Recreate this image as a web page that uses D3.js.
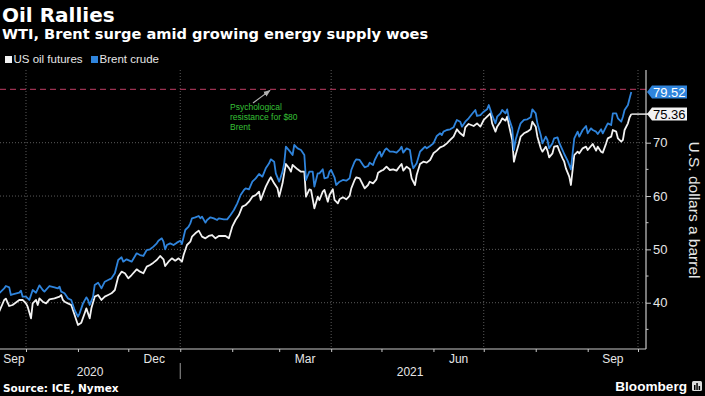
<!DOCTYPE html>
<html><head><meta charset="utf-8">
<script src="https://cdn.jsdelivr.net/npm/d3@7"></script>
<style>html,body{margin:0;padding:0;background:#000;}svg{display:block;}</style>
</head><body>
<svg id="c" width="705" height="396"></svg>
<script>
const title = "Oil Rallies";
const subtitle = "WTI, Brent surge amid growing energy supply woes";
const seriesNames = ["US oil futures", "Brent crude"];
const yTicksMajor = [40, 50, 60, 70];
const yTicksMinor = [35, 45, 55, 65];
const monthLabels = [["2020-09","Sep"],["2020-12","Dec"],["2021-03","Mar"],["2021-06","Jun"],["2021-09","Sep"]];
const yearLabels = ["2020", "2021"];
const resistanceLevel = 80;
const annotation = ["Psychological", "resistance for $80", "Brent"];
const source = "Source: ICE, Nymex";
const yAxisTitle = "U.S. dollars a barrel";

const brent = [
["2020-09-15",41.76],["2020-09-18",42.69],["2020-09-19",43.13],["2020-09-21",42.88],["2020-09-22",41.44],["2020-09-23",41.57],["2020-09-27",41.88],["2020-09-28",42.26],["2020-09-29",41.13],
["2020-10-01",41.13],["2020-10-03",40.51],["2020-10-05",42.38],["2020-10-07",41.88],["2020-10-09",43.26],["2020-10-11",42.38],["2020-10-12",42.07],["2020-10-15",43.13],["2020-10-18",42.88],["2020-10-20",42.69],["2020-10-21",43.01],["2020-10-22",42.07],["2020-10-24",41.76],["2020-10-26",40.82],["2020-10-28",40.51],["2020-10-30",38.63],
["2020-11-01",37.38],["2020-11-02",38.01],["2020-11-04",39.88],["2020-11-06",41.01],["2020-11-07",40.51],["2020-11-08",39.57],["2020-11-10",41.13],["2020-11-11",43.32],["2020-11-13",43.76],["2020-11-15",42.69],["2020-11-17",43.94],["2020-11-19",44.26],["2020-11-21",44.57],["2020-11-23",45.51],["2020-11-25",48.01],["2020-11-27",48.51],["2020-11-28",47.69],["2020-11-30",48.13],
["2020-12-03",47.69],["2020-12-06",49.26],["2020-12-08",48.94],["2020-12-10",48.76],["2020-12-12",49.88],["2020-12-14",50.01],["2020-12-16",50.51],["2020-12-18",51.13],["2020-12-19",51.63],["2020-12-21",52.07],["2020-12-22",51.44],["2020-12-23",50.01],["2020-12-24",50.82],["2020-12-26",51.13],["2020-12-28",50.82],["2020-12-30",51.26],
["2021-01-01",51.63],["2021-01-02",51.01],["2021-01-04",53.63],["2021-01-06",54.26],["2021-01-07",54.88],["2021-01-08",55.82],["2021-01-10",56.01],["2021-01-12",56.26],["2021-01-13",55.82],["2021-01-14",56.13],["2021-01-16",55.01],["2021-01-17",55.51],["2021-01-19",56.01],["2021-01-21",55.82],["2021-01-23",55.51],["2021-01-24",55.82],["2021-01-27",55.63],["2021-01-29",55.63],["2021-01-31",56.44],
["2021-02-02",57.38],["2021-02-04",58.63],["2021-02-06",60.19],["2021-02-08",61.13],["2021-02-09",61.44],["2021-02-11",61.26],["2021-02-13",62.69],["2021-02-15",63.32],["2021-02-17",64.13],["2021-02-19",63.63],["2021-02-21",65.19],["2021-02-23",66.13],["2021-02-24",66.88],["2021-02-26",66.44],["2021-02-27",64.26],
["2021-03-01",62.69],["2021-03-03",64.57],["2021-03-04",66.13],["2021-03-05",69.26],["2021-03-07",68.51],["2021-03-09",67.69],["2021-03-10",69.57],["2021-03-12",68.94],["2021-03-14",68.63],["2021-03-16",67.69],["2021-03-17",63.01],["2021-03-19",64.57],["2021-03-21",64.57],["2021-03-22",61.76],["2021-03-24",64.26],["2021-03-25",64.26],["2021-03-27",65.01],["2021-03-28",63.32],["2021-03-30",63.51],["2021-03-31",64.57],
["2021-04-01",64.88],["2021-04-03",63.51],["2021-04-04",62.07],["2021-04-06",62.69],["2021-04-08",63.01],["2021-04-10",62.88],["2021-04-12",63.32],["2021-04-13",64.88],["2021-04-15",66.44],["2021-04-16",66.88],["2021-04-18",66.76],["2021-04-20",65.82],["2021-04-21",65.38],["2021-04-23",65.63],["2021-04-24",66.26],["2021-04-26",65.82],["2021-04-27",66.76],["2021-04-29",68.01],["2021-04-30",68.32],
["2021-05-01",67.38],["2021-05-03",68.63],["2021-05-04",68.94],["2021-05-06",68.32],["2021-05-08",68.32],["2021-05-10",68.13],["2021-05-12",68.76],["2021-05-13",69.26],["2021-05-14",68.13],["2021-05-16",68.94],["2021-05-18",68.63],["2021-05-19",66.44],["2021-05-20",65.19],["2021-05-22",66.13],["2021-05-24",68.32],["2021-05-25",68.63],["2021-05-27",69.26],["2021-05-28",68.94],["2021-05-30",69.38],
["2021-06-01",69.88],["2021-06-03",71.26],["2021-06-05",71.76],["2021-06-06",71.44],["2021-06-07",72.07],["2021-06-09",72.38],["2021-06-11",72.51],["2021-06-13",72.88],["2021-06-14",73.63],["2021-06-15",74.26],["2021-06-17",73.94],["2021-06-18",73.01],["2021-06-20",73.94],["2021-06-22",74.57],["2021-06-24",75.38],["2021-06-26",76.13],["2021-06-27",75.01],["2021-06-29",75.19],
["2021-07-01",75.82],["2021-07-03",76.26],["2021-07-04",77.07],["2021-07-06",75.19],["2021-07-08",73.63],["2021-07-09",74.88],["2021-07-11",75.51],["2021-07-12",76.13],["2021-07-14",75.51],["2021-07-15",76.26],["2021-07-16",74.57],["2021-07-18",72.69],["2021-07-19",68.63],["2021-07-20",70.51],["2021-07-22",72.69],["2021-07-23",73.63],["2021-07-25",74.26],["2021-07-27",74.38],["2021-07-29",74.76],["2021-07-30",76.26],
["2021-08-01",75.51],["2021-08-02",73.63],["2021-08-04",71.44],["2021-08-05",69.88],["2021-08-07",71.13],["2021-08-08",70.51],["2021-08-09",68.94],["2021-08-11",69.88],["2021-08-12",70.82],["2021-08-14",71.01],["2021-08-15",70.01],["2021-08-17",68.63],["2021-08-18",67.88],["2021-08-20",66.63],["2021-08-21",65.82],["2021-08-22",65.01],["2021-08-23",68.01],["2021-08-24",70.82],["2021-08-26",72.07],["2021-08-27",71.13],["2021-08-29",72.38],["2021-08-31",73.13],
["2021-09-01",71.76],["2021-09-03",72.69],["2021-09-04",72.38],["2021-09-06",72.07],["2021-09-07",71.63],["2021-09-09",72.51],["2021-09-10",71.76],["2021-09-12",73.01],["2021-09-13",73.63],["2021-09-15",73.32],["2021-09-16",75.51],["2021-09-18",75.51],["2021-09-19",74.57],["2021-09-21",73.94],["2021-09-22",74.88],["2021-09-23",76.13],["2021-09-25",77.07],["2021-09-26",78.32],["2021-09-27",79.52]
];

const wti = [
["2020-09-15",38.32],["2020-09-18",40.51],["2020-09-19",40.76],["2020-09-21",39.38],["2020-09-23",39.57],["2020-09-27",40.51],["2020-09-29",40.51],
["2020-10-01",39.88],["2020-10-02",39.26],["2020-10-04",37.07],["2020-10-05",39.88],["2020-10-07",40.51],["2020-10-08",39.57],["2020-10-09",40.82],["2020-10-11",40.19],["2020-10-13",39.88],["2020-10-15",40.63],["2020-10-18",40.82],["2020-10-21",41.13],["2020-10-22",41.44],["2020-10-23",40.51],["2020-10-24",40.19],["2020-10-26",39.88],["2020-10-28",39.57],["2020-10-30",37.69],
["2020-11-01",35.82],["2020-11-03",36.26],["2020-11-05",38.01],["2020-11-06",38.94],["2020-11-08",37.07],["2020-11-09",38.94],["2020-11-11",41.13],["2020-11-13",41.44],["2020-11-15",40.51],["2020-11-17",41.13],["2020-11-19",41.44],["2020-11-21",41.76],["2020-11-23",42.38],["2020-11-25",44.88],["2020-11-27",45.82],["2020-11-29",45.51],
["2020-12-01",44.57],["2020-12-03",45.19],["2020-12-06",46.26],["2020-12-08",45.82],["2020-12-10",45.51],["2020-12-12",46.76],["2020-12-14",47.07],["2020-12-16",47.51],["2020-12-18",48.01],["2020-12-20",48.76],["2020-12-22",48.13],["2020-12-23",46.88],["2020-12-25",47.69],["2020-12-27",48.32],["2020-12-29",47.88],["2020-12-31",48.32],
["2021-01-02",47.69],["2021-01-03",48.94],["2021-01-05",50.82],["2021-01-07",51.44],["2021-01-08",52.38],["2021-01-10",53.01],["2021-01-12",53.51],["2021-01-14",52.38],["2021-01-16",52.07],["2021-01-18",52.51],["2021-01-20",52.69],["2021-01-22",52.07],["2021-01-24",52.51],["2021-01-26",52.51],["2021-01-28",52.51],["2021-01-30",52.07],
["2021-02-01",54.26],["2021-02-03",55.51],["2021-02-05",56.44],["2021-02-07",58.01],["2021-02-09",58.32],["2021-02-11",58.94],["2021-02-13",59.88],["2021-02-15",60.19],["2021-02-17",60.82],["2021-02-18",59.26],["2021-02-21",61.76],["2021-02-23",63.01],["2021-02-24",63.51],["2021-02-26",62.38],["2021-02-28",61.44],
["2021-03-01",59.88],["2021-03-03",62.38],["2021-03-04",64.26],["2021-03-05",66.01],["2021-03-07",65.19],["2021-03-08",64.57],["2021-03-09",65.82],["2021-03-12",65.01],["2021-03-14",64.57],["2021-03-16",64.57],["2021-03-17",59.88],["2021-03-19",61.26],["2021-03-20",61.13],["2021-03-22",57.69],["2021-03-24",59.88],["2021-03-25",59.26],["2021-03-27",60.82],["2021-03-28",61.13],["2021-03-30",58.94],["2021-03-31",60.19],
["2021-04-02",61.26],["2021-04-03",59.26],["2021-04-05",58.63],["2021-04-06",59.38],["2021-04-08",59.76],["2021-04-10",59.38],["2021-04-12",60.01],["2021-04-13",61.44],["2021-04-15",63.01],["2021-04-16",63.51],["2021-04-18",63.32],["2021-04-20",62.07],["2021-04-21",61.44],["2021-04-23",62.07],["2021-04-24",62.69],["2021-04-26",62.38],["2021-04-28",63.13],["2021-04-29",64.38],
["2021-05-01",64.76],["2021-05-02",64.88],["2021-05-04",65.51],["2021-05-06",64.88],["2021-05-08",65.01],["2021-05-10",64.76],["2021-05-12",65.63],["2021-05-13",66.01],["2021-05-14",64.76],["2021-05-16",65.51],["2021-05-18",65.01],["2021-05-19",63.32],["2021-05-21",62.07],["2021-05-22",63.94],["2021-05-24",66.01],["2021-05-26",66.44],["2021-05-28",66.26],["2021-05-30",66.76],
["2021-06-01",68.01],["2021-06-03",68.51],["2021-06-05",69.13],["2021-06-07",69.38],["2021-06-09",69.88],["2021-06-11",70.51],["2021-06-13",71.13],["2021-06-15",72.51],["2021-06-17",71.76],["2021-06-19",71.26],["2021-06-20",72.88],["2021-06-22",73.51],["2021-06-25",73.13],["2021-06-27",73.63],["2021-06-29",73.01],
["2021-07-01",74.26],["2021-07-03",74.88],["2021-07-05",75.51],["2021-07-06",73.63],["2021-07-08",72.07],["2021-07-09",73.01],["2021-07-11",73.94],["2021-07-12",74.57],["2021-07-14",74.13],["2021-07-15",74.88],["2021-07-16",73.32],["2021-07-18",70.51],["2021-07-19",66.44],["2021-07-20",67.69],["2021-07-22",69.88],["2021-07-23",71.13],["2021-07-25",71.76],["2021-07-27",72.07],["2021-07-29",72.51],["2021-07-30",73.94],
["2021-08-01",73.01],["2021-08-02",71.13],["2021-08-04",68.94],["2021-08-05",68.32],["2021-08-07",69.26],["2021-08-08",68.51],["2021-08-09",67.26],["2021-08-11",68.01],["2021-08-12",69.26],["2021-08-14",69.38],["2021-08-15",68.51],["2021-08-17",67.07],["2021-08-18",66.44],["2021-08-19",65.19],["2021-08-21",63.63],["2021-08-22",62.07],["2021-08-23",64.88],["2021-08-24",67.69],["2021-08-26",68.32],["2021-08-27",68.01],["2021-08-29",68.94],["2021-08-31",69.26],
["2021-09-01",68.63],["2021-09-03",69.38],["2021-09-04",69.76],["2021-09-06",68.51],["2021-09-07",69.26],["2021-09-09",68.32],["2021-09-10",68.13],["2021-09-12",69.88],["2021-09-13",70.82],["2021-09-15",71.13],["2021-09-16",72.38],["2021-09-18",72.07],["2021-09-19",70.82],["2021-09-21",70.19],["2021-09-22",70.51],["2021-09-23",72.38],["2021-09-25",73.63],["2021-09-26",74.76],["2021-09-27",75.36]
];

const parse = d3.timeParse("%Y-%m-%d");
const parseM = d3.timeParse("%Y-%m");
const wtiData = wti.map(d => ({date: parse(d[0]), value: d[1]}));
const brentData = brent.map(d => ({date: parse(d[0]), value: d[1]}));

const svg = d3.select("#c");
const plotLeft = 0, plotRight = 646, plotTop = 70, plotBottom = 349;
const x = d3.scaleTime()
  .domain([new Date(2020, 8, 15, 12), new Date(2021, 9, 5, 18, 30)])
  .range([plotLeft, plotRight]);
const y = d3.scaleLinear().domain([31.32, 83.63]).range([plotBottom, plotTop]);

const WHITE = "#f2f2f2", BLUE = "#2f84dc", AXIS = "#c8c8c8", GRID = "#5a5a5a";
const sansF = "'Liberation Sans', Arial, sans-serif";
const boldF = "'DejaVu Sans', sans-serif";

// title
svg.append("text").attr("x", 2).attr("y", 22).attr("fill", "#fff")
  .attr("font-family", boldF).attr("font-weight", "bold").attr("font-size", 20).text(title);
svg.append("text").attr("x", 2).attr("y", 39).attr("fill", "#fff")
  .attr("font-family", boldF).attr("font-weight", "bold").attr("font-size", 14.6).text(subtitle);

// legend
const legColors = [WHITE, BLUE];
const legX = [5, 91];
seriesNames.forEach((n, i) => {
  svg.append("rect").attr("x", legX[i]).attr("y", 56).attr("width", 7).attr("height", 7).attr("fill", legColors[i]);
  svg.append("text").attr("x", legX[i] + 8.5).attr("y", 63).attr("fill", "#e6e6e6")
    .attr("font-family", sansF).attr("font-size", 11.5).text(n);
});

// gridlines
const quarterStarts = d3.timeMonth.every(3).range(new Date(2020, 9, 1), new Date(2021, 9, 2));
svg.append("g").selectAll("line").data(quarterStarts).join("line")
  .attr("x1", d => x(d)).attr("x2", d => x(d)).attr("y1", plotTop).attr("y2", plotBottom)
  .attr("stroke", GRID).attr("stroke-width", 1).attr("stroke-dasharray", "1,2");
svg.append("g").selectAll("line").data(yTicksMajor).join("line")
  .attr("x1", plotLeft).attr("x2", plotRight).attr("y1", d => y(d)).attr("y2", d => y(d))
  .attr("stroke", GRID).attr("stroke-width", 1).attr("stroke-dasharray", "1,2");

// resistance line
svg.append("line").attr("x1", plotLeft).attr("x2", plotRight)
  .attr("y1", y(resistanceLevel)).attr("y2", y(resistanceLevel))
  .attr("stroke", "#9b3050").attr("stroke-width", 1.2).attr("stroke-dasharray", "6,4");

// annotation
const ann = svg.append("g");
annotation.forEach((t, i) => {
  ann.append("text").attr("x", 230).attr("y", 110 + i * 10).attr("fill", "#36c136")
    .attr("font-family", sansF).attr("font-size", 8.5).text(t);
});
svg.append("defs").append("marker").attr("id", "ah").attr("viewBox", "0 0 10 10")
  .attr("refX", 9).attr("refY", 5).attr("markerWidth", 6).attr("markerHeight", 6)
  .attr("orient", "auto").append("path").attr("d", "M0,1 L10,5 L0,9 Z").attr("fill", "#b0b0b0");
svg.append("line").attr("x1", 253).attr("y1", 103).attr("x2", 270).attr("y2", y(resistanceLevel) + 1)
  .attr("stroke", "#b0b0b0").attr("stroke-width", 1.2).attr("marker-end", "url(#ah)");

// lines
const line = d3.line().x(d => x(d.date)).y(d => y(d.value));
svg.append("path").datum(wtiData).attr("d", line).attr("fill", "none")
  .attr("stroke", WHITE).attr("stroke-width", 1.8).attr("stroke-linejoin", "round");
svg.append("path").datum(brentData).attr("d", line).attr("fill", "none")
  .attr("stroke", BLUE).attr("stroke-width", 1.8).attr("stroke-linejoin", "round");

// right axis
const yAxis = d3.axisRight(y).tickValues(yTicksMajor).tickSize(5).tickPadding(2).tickFormat(d3.format("d"));
const ga = svg.append("g").attr("transform", `translate(${plotRight},0)`).call(yAxis);
ga.select(".domain").remove();
ga.selectAll(".tick line").attr("stroke", AXIS);
ga.selectAll(".tick text").attr("fill", "#e6e6e6").attr("font-family", sansF).attr("font-size", 13);
svg.append("g").selectAll("line").data(yTicksMinor).join("line")
  .attr("x1", plotRight).attr("x2", plotRight + 2.5).attr("y1", d => y(d)).attr("y2", d => y(d))
  .attr("stroke", AXIS);
svg.append("line").attr("x1", plotRight).attr("x2", plotRight).attr("y1", plotTop).attr("y2", plotBottom)
  .attr("stroke", AXIS).attr("stroke-width", 1.2);

// bottom axis
const months = d3.timeMonth.range(new Date(2020, 9, 1), new Date(2021, 9, 2));
const xAxis = d3.axisBottom(x).tickValues(months).tickSize(3).tickFormat("");
const gx = svg.append("g").attr("transform", `translate(0,${plotBottom})`).call(xAxis);
gx.select(".domain").remove();
gx.selectAll(".tick line").attr("stroke", AXIS);
svg.append("line").attr("x1", plotLeft).attr("x2", plotRight).attr("y1", plotBottom).attr("y2", plotBottom)
  .attr("stroke", AXIS).attr("stroke-width", 1.2);

monthLabels.forEach(([m, t]) => {
  const start = parseM(m);
  const mid = new Date((+start + +d3.timeMonth.offset(start, 1)) / 2);
  svg.append("text").attr("x", Math.max(x(mid), 14)).attr("y", 362.5).attr("text-anchor", "middle")
    .attr("fill", "#e6e6e6").attr("font-family", sansF).attr("font-size", 12).text(t);
});
const yearStart = new Date(2021, 0, 1);
svg.append("text").attr("x", (plotLeft + x(yearStart)) / 2).attr("y", 376).attr("text-anchor", "middle")
  .attr("fill", "#e6e6e6").attr("font-family", sansF).attr("font-size", 12).text(yearLabels[0]);
svg.append("text").attr("x", (x(yearStart) + plotRight) / 2 - 3).attr("y", 376).attr("text-anchor", "middle")
  .attr("fill", "#e6e6e6").attr("font-family", sansF).attr("font-size", 12).text(yearLabels[1]);
svg.append("line").attr("x1", x(yearStart)).attr("x2", x(yearStart)).attr("y1", 363).attr("y2", 379)
  .attr("stroke", "#999").attr("stroke-width", 1);

// axis title
svg.append("text").attr("transform", `translate(689,210) rotate(90)`).attr("text-anchor", "middle")
  .attr("fill", "#e6e6e6").attr("font-family", sansF).attr("font-size", 15.5).text(yAxisTitle);

// last-value tags
function tag(lastPt, fill, textFill, leader) {
  const yc = y(lastPt.value), x0 = plotRight + 1;
  if (leader) svg.append("line").attr("x1", x(lastPt.date)).attr("x2", x0 + 3).attr("y1", yc).attr("y2", yc)
    .attr("stroke", fill).attr("stroke-width", 1.4);
  svg.append("path").attr("d", `M${x0},${yc} L${x0 + 5},${yc - 6.5} L${x0 + 40},${yc - 6.5} L${x0 + 40},${yc + 6.5} L${x0 + 5},${yc + 6.5} Z`)
    .attr("fill", fill);
  svg.append("text").attr("x", x0 + 6).attr("y", yc + 4.6).attr("fill", textFill)
    .attr("font-family", sansF).attr("font-size", 13).text(lastPt.value.toFixed(2));
}
tag(wtiData[wtiData.length - 1], WHITE, "#000", true);
tag(brentData[brentData.length - 1], BLUE, "#fff", false);

// footer
svg.append("text").attr("x", 3).attr("y", 392).attr("fill", "#fff").attr("font-family", boldF)
  .attr("font-weight", "bold").attr("font-size", 10.5).text(source);
svg.append("text").attr("x", 687).attr("y", 391).attr("text-anchor", "end").attr("fill", "#fff")
  .attr("font-family", sansF).attr("font-weight", "bold").attr("font-size", 13.6).text("Bloomberg");
const logo = svg.append("g").attr("transform", "translate(692,381)");
logo.append("rect").attr("width", 10).attr("height", 10).attr("rx", 1.5).attr("fill", "#ddd");
[[2, 4, 5], [4.3, 2, 7], [6.6, 5, 4]].forEach(([bx, by, bh]) =>
  logo.append("rect").attr("x", bx).attr("y", by).attr("width", 1.5).attr("height", bh).attr("fill", "#000"));
</script>
</body></html>
